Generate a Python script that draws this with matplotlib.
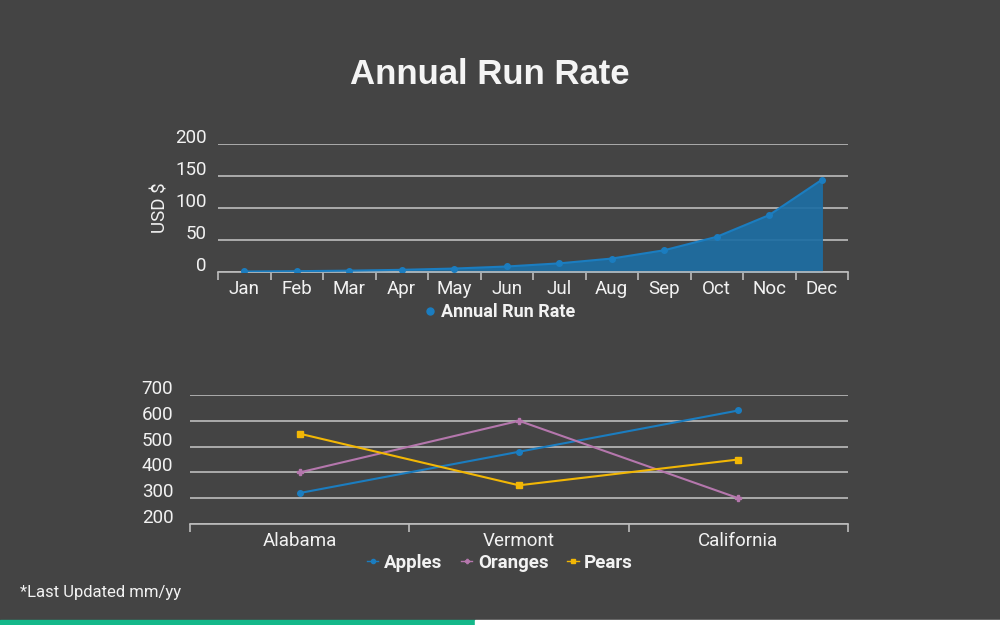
import matplotlib.pyplot as plt
import numpy as np
from matplotlib.lines import Line2D
from matplotlib.patches import Rectangle
import matplotlib.transforms as mtransforms

BG = "#444444"
GRID = "#bdbdbd"
TXT = "#f2f2f2"

months = ["Jan", "Feb", "Mar", "Apr", "May", "Jun", "Jul", "Aug", "Sep", "Oct", "Noc", "Dec"]
run_rate = [0.8, 1.3, 2.1, 3.4, 5.4, 8.6, 13.5, 21, 34, 55, 89, 144]
run_ticks = [0, 50, 100, 150, 200]

states = ["Alabama", "Vermont", "California"]
apples = [320, 480, 640]
oranges = [400, 600, 300]
pears = [550, 350, 450]
fruit_ticks = [200, 300, 400, 500, 600, 700]

BLUE = "#1b7dc0"
FILL = "#1d6ea3"
PURPLE = "#b577ad"
YELLOW = "#f2b705"

plt.rcParams["font.family"] = ["Roboto", "DejaVu Sans"]

fig = plt.figure(figsize=(10, 6.25), dpi=100, facecolor=BG)


def style_axes(ax, ncat, ticks, pad_px):
    ax.set_facecolor(BG)
    for s in ["top", "right", "left"]:
        ax.spines[s].set_visible(False)
    ax.spines["bottom"].set_color(GRID)
    ax.spines["bottom"].set_linewidth(1.2)
    ax.set_xlim(-0.5, ncat - 0.5)
    ax.set_ylim(ticks[0], ticks[-1])
    ax.set_yticks(ticks)
    ax.yaxis.grid(True, color=GRID, lw=1.2, zorder=0)
    ax.set_axisbelow(True)
    ax.tick_params(axis="y", length=0, colors=TXT, labelsize=13.5, pad=pad_px)
    ax.tick_params(axis="x", length=0, colors=TXT, labelsize=13.5, pad=6)
    ax.set_xticks(range(ncat))
    # boundary tick marks
    ax.set_xticks(np.arange(-0.5, ncat), minor=True)
    ax.tick_params(axis="x", which="minor", length=6, color=GRID, width=1.2)
    off = mtransforms.ScaledTranslation(0, 8 / 100, fig.dpi_scale_trans)
    for lab in ax.get_yticklabels():
        lab.set_transform(lab.get_transform() + off)


# top chart
ax1 = fig.add_axes([0.218, 0.5648, 0.63, 0.2048])
style_axes(ax1, len(months), run_ticks, 8)
x1 = np.arange(len(months))
ax1.fill_between(x1, 0, run_rate, color=FILL, alpha=0.92, zorder=1)
ax1.plot(x1, run_rate, color=BLUE, lw=1.5, marker="o", ms=4, zorder=3)
ax1.set_xticklabels(months)
ax1.set_ylabel("USD $", color=TXT, fontsize=13.5, labelpad=4)

# bottom chart
ax2 = fig.add_axes([0.19, 0.1616, 0.658, 0.2064])
style_axes(ax2, len(states), fruit_ticks, 12)
x2 = np.arange(len(states))
ax2.plot(x2, apples, color=BLUE, lw=1.5, marker="o", ms=4, zorder=3)
ax2.plot(x2, oranges, color=PURPLE, lw=1.5, marker="P", ms=4, zorder=3)
ax2.plot(x2, pears, color=YELLOW, lw=1.5, marker="s", ms=4, zorder=3)
ax2.set_xticklabels(states)

# legends
h1 = [Line2D([], [], color=BLUE, marker="o", ms=5, lw=0)]
fig.legend(h1, ["Annual Run Rate"], loc="center", bbox_to_anchor=(0.5, 1 - 312 / 625),
           frameon=False, handlelength=0.6, handletextpad=0.3,
           prop={"weight": "bold", "size": 13}, labelcolor=TXT)

h2 = [Line2D([], [], color=BLUE, marker="o", ms=3, lw=1),
      Line2D([], [], color=PURPLE, marker="P", ms=3, lw=1),
      Line2D([], [], color=YELLOW, marker="s", ms=3, lw=1)]
fig.legend(h2, ["Apples", "Oranges", "Pears"], loc="center", bbox_to_anchor=(0.5, 1 - 563 / 625),
           ncol=3, frameon=False, handlelength=0.6, handletextpad=0.3, columnspacing=1.0,
           prop={"weight": "bold", "size": 13.5}, labelcolor=TXT)

# title and footnote
fig.text(0.49, 1 - 75 / 625, "Annual Run Rate", ha="center", va="center", color="#f4f4f4",
         fontsize=25, family=["Liberation Sans", "DejaVu Sans"], fontweight="bold")
fig.text(0.02, 1 - 593 / 625, "*Last Updated mm/yy", ha="left", va="center", color=TXT, fontsize=12)

# bottom strip
fig.patches.append(Rectangle((0, 0), 0.475, 5 / 625, transform=fig.transFigure,
                             color="#14b88a", zorder=5))
fig.patches.append(Rectangle((0.475, 0), 0.525, 5 / 625, transform=fig.transFigure,
                             color="white", zorder=5))

fig.savefig("out.png", dpi=100, facecolor=BG)
